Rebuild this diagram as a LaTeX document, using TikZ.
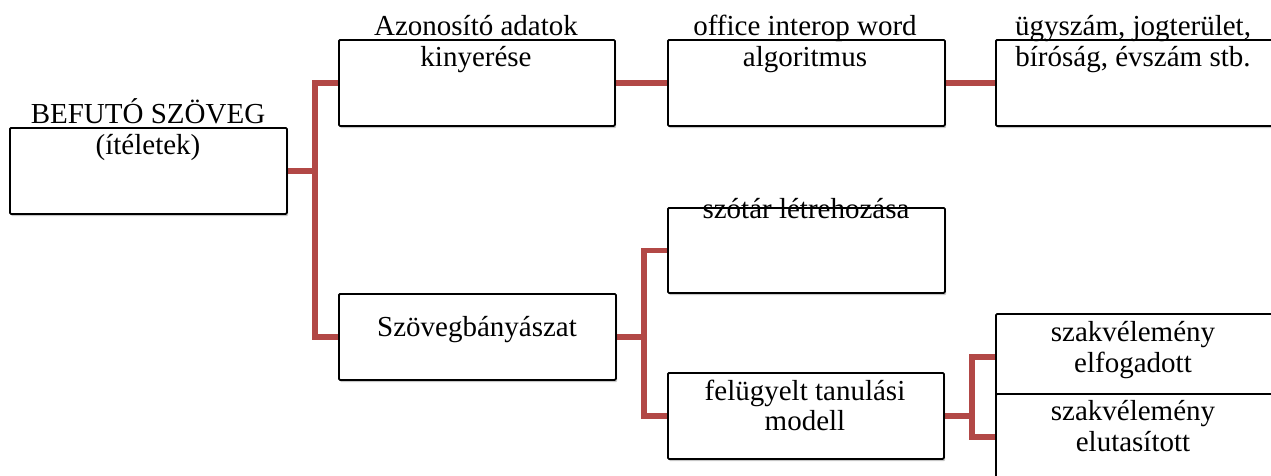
\documentclass[tikz,border=0pt]{standalone}
\usepackage{fontspec}
\setmainfont{Liberation Serif}
\usetikzlibrary{shadows,backgrounds}
\definecolor{connred}{RGB}{178,72,70}
\begin{document}
\begin{tikzpicture}[x=1pt,y=-1pt,
  box/.style={draw=black, line width=1.8pt, fill=white, rounded corners=1.2pt,
    anchor=north west, minimum width=277pt, minimum height=86pt, inner sep=0pt,
    drop shadow={shadow xshift=1.2pt, shadow yshift=-2.2pt, opacity=0.22, fill=black}},
  txt/.style={anchor=base, inner sep=0pt, font=\fontsize{29}{31}\selectfont},
  conn/.style={draw=connred, line width=5.5pt}]
\useasboundingbox (0,0) rectangle (1271,475);
% boxes
\node[box] (root) at (9,127) {};
\node[box, minimum width=276pt] (A) at (338,39) {};
\node[box] (B) at (667,39) {};
\node[box] (C) at (995,39) {};
\node[box, minimum height=85pt] (D) at (667,207) {};
\node[box] (E) at (338,293) {};
\node[box, minimum width=276pt] (F) at (667,372) {};
\node[box] (G1) at (995,313) {};
\node[box] (G2) at (995,393) {};
% connectors
\begin{scope}[on background layer]
\draw[conn] (root.east) -- ++(27,0) |- (A.west);
\draw[conn] (root.east) -- ++(27,0) |- (E.west);
\draw[conn] (A.east) -- (B.west);
\draw[conn] (B.east) -- (C.west);
\draw[conn] (E.east) -- ++(27,0) |- (D.west);
\draw[conn] (E.east) -- ++(27,0) |- (F.west);
\draw[conn] (F.east) -- ++(27,0) |- (G1.west);
\draw[conn] (F.east) -- ++(27,0) |- (G2.west);
\end{scope}
% texts
\node[txt] (t1) at (148,123) {BEFUTÓ SZÖVEG};
\node[txt] (t2) at (148,154) {(ítéletek)};
\node[txt] (t3) at (476,35) {Azonosító adatok};
\node[txt] (t4) at (476,66) {kinyerése};
\node[txt] (t5) at (805,35) {office interop word};
\node[txt] (t6) at (805,66) {algoritmus};
\node[txt] (t7) at (1133,35) {ügyszám, jogterület,};
\node[txt] (t8) at (1133,66) {bíróság, évszám stb.};
\node[txt] (t9) at (806,218) {szótár létrehozása};
\node[txt] (t10) at (477,336) {Szövegbányászat};
\node[txt] (t11) at (805,400) {felügyelt tanulási};
\node[txt] (t12) at (805,430) {modell};
\node[txt] (t13) at (1133,341) {szakvélemény};
\node[txt] (t14) at (1133,372) {elfogadott};
\node[txt] (t15) at (1133,420) {szakvélemény};
\node[txt] (t16) at (1133,451) {elutasított};
\end{tikzpicture}
\end{document}
